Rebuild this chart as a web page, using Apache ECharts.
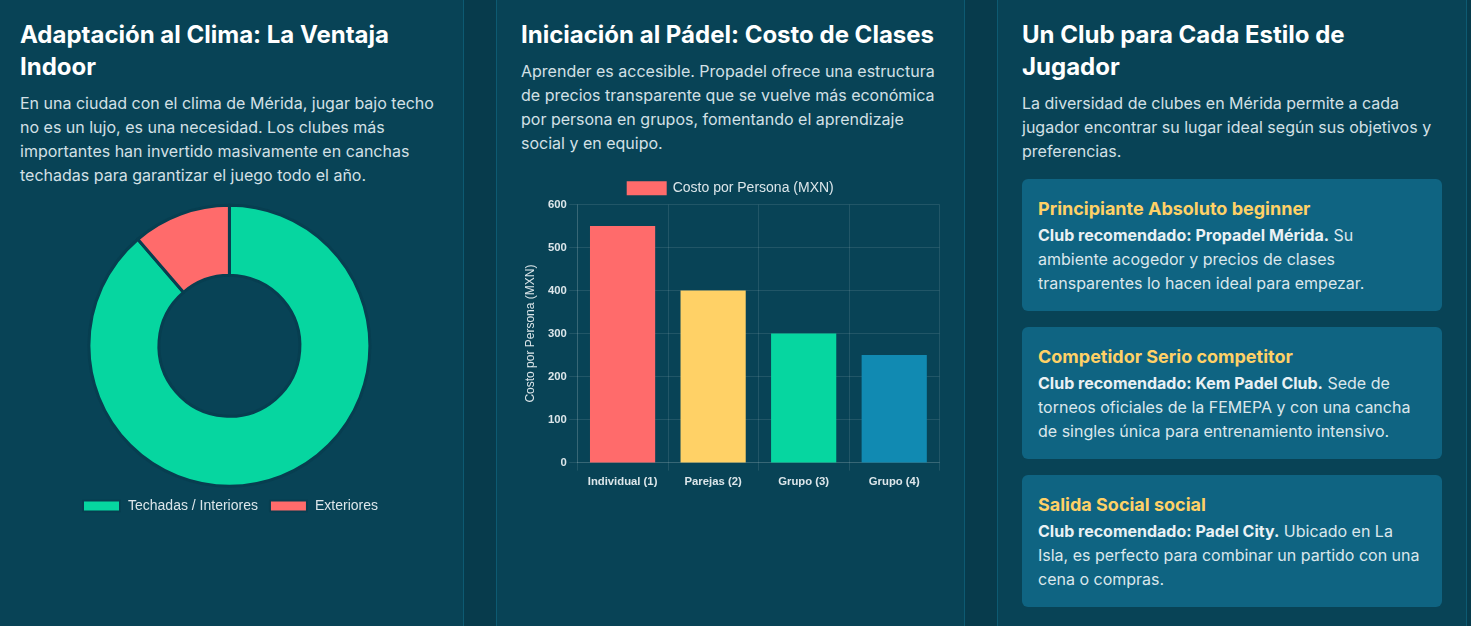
<!DOCTYPE html>
<html lang="es">
<head>
<meta charset="utf-8">
<title>Pádel en Mérida</title>
<script src="https://cdn.jsdelivr.net/npm/echarts@6/dist/echarts.min.js"></script>
<style>
    * { box-sizing: border-box; margin: 0; padding: 0; }
    html, body { width: 1471px; height: 626px; overflow: hidden; background: #073b4c; font-family: 'Inter', sans-serif; }
    .panel { position: absolute; top: -30px; width: 469px; height: 700px; padding: 49px 24px 0; background: #084356; border: 1px solid #0d5a72; border-top: 0; border-bottom: 0; }
    #panel-a { left: -5px; }
    #panel-b { left: 496px; }
    #panel-c { left: 997px; width: 470px; }
    h2 { font-size: 24px; line-height: 32px; font-weight: 700; color: #fff; margin-bottom: 8px; }
    .panel > p { font-size: 16px; line-height: 24px; color: #d3e0e6; }
    .card { background: #0f6482; border-radius: 6px; padding: 16px; height: 132px; margin-bottom: 16px; }
    .cards { margin-top: 16px; }
    h3 { font-size: 18px; line-height: 28px; font-weight: 700; color: #ffd166; margin-bottom: 0; }
    .card p { font-size: 16px; line-height: 24px; color: #dbe7ec; }
    .card strong { font-weight: 700; color: #e9f1f4; }
    .chart { position: absolute; }
    #donut-chart { left: 20px; top: 196px; width: 419px; height: 325px; }
    #cost-chart { left: 521px; top: 170px; width: 420px; height: 325px; }
</style>
</head>
<body>
<div class="panel" id="panel-a">
    <h2>Adaptación al Clima: La Ventaja Indoor</h2>
    <p>En una ciudad con el clima de Mérida, jugar bajo techo no es un lujo, es una necesidad. Los clubes más importantes han invertido masivamente en canchas techadas para garantizar el juego todo el año.</p>
</div>
<div class="panel" id="panel-b">
    <h2>Iniciación al Pádel: Costo de Clases</h2>
    <p>Aprender es accesible. Propadel ofrece una estructura de precios transparente que se vuelve más económica por persona en grupos, fomentando el aprendizaje social y en equipo.</p>
</div>
<div class="panel" id="panel-c">
    <h2>Un Club para Cada Estilo de Jugador</h2>
    <p>La diversidad de clubes en Mérida permite a cada jugador encontrar su lugar ideal según sus objetivos y preferencias.</p>
    <div class="cards">
        <div class="card">
            <h3>Principiante Absoluto beginner</h3>
            <p><strong>Club recomendado: Propadel Mérida.</strong> Su ambiente acogedor y precios de clases transparentes lo hacen ideal para empezar.</p>
        </div>
        <div class="card">
            <h3>Competidor Serio competitor</h3>
            <p><strong>Club recomendado: Kem Padel Club.</strong> Sede de torneos oficiales de la FEMEPA y con una cancha de singles única para entrenamiento intensivo.</p>
        </div>
        <div class="card">
            <h3>Salida Social social</h3>
            <p><strong>Club recomendado: Padel City.</strong> Ubicado en La Isla, es perfecto para combinar un partido con una cena o compras.</p>
        </div>
    </div>
</div>
<div class="chart" id="donut-chart"></div>
<div class="chart" id="cost-chart"></div>

<script>
// Chart data
const courtTypes = ['Techadas / Interiores', 'Exteriores'];
const courtShares = [88.7, 11.3];
const courtColors = ['#06d6a0', '#ff6b6b'];

const classTypes = ['Individual (1)', 'Parejas (2)', 'Grupo (3)', 'Grupo (4)'];
const classCosts = [550, 400, 300, 250];
const classColors = ['#ff6b6b', '#ffd166', '#06d6a0', '#118ab2'];
const costSeriesName = 'Costo por Persona (MXN)';
const costAxisTitle = 'Costo por Persona (MXN)';

const chartFont = "'Liberation Sans', Arial, sans-serif";
const chartText = '#dce6ea';
const gridColor = 'rgba(255,255,255,0.1)';

document.addEventListener('DOMContentLoaded', function() {
    initDonutChart();
    initCostChart();
});

// Indoor vs outdoor courts
function initDonutChart() {
    const myChart = echarts.init(document.getElementById('donut-chart'));
    myChart.setOption({
        animation: false,
        color: courtColors,
        legend: {
            left: 62,
            top: 303,
            padding: 0,
            icon: 'rect',
            itemWidth: 37,
            itemHeight: 11,
            itemGap: 11,
            textStyle: { color: chartText, fontFamily: chartFont, fontSize: 14, padding: [0, 0, 0, 3] }
        },
        series: [{
            type: 'pie',
            center: [209.4, 149.8],
            radius: [70.5, 140.5],
            startAngle: 90,
            label: { show: false },
            labelLine: { show: false },
            itemStyle: { borderColor: '#073e50', borderWidth: 3 },
            data: courtTypes.map((name, i) => ({ name: name, value: courtShares[i] }))
        }]
    });
}

// Class cost per person
function initCostChart() {
    const myChart = echarts.init(document.getElementById('cost-chart'));
    myChart.setOption({
        animation: false,
        legend: {
            left: 105.7,
            top: 11.2,
            padding: 0,
            icon: 'rect',
            itemWidth: 40,
            itemHeight: 14,
            textStyle: { color: chartText, fontFamily: chartFont, fontSize: 14, padding: [0, 0, 0, 1] }
        },
        grid: { left: 56.3, top: 34.6, width: 362.2, height: 258, outerBoundsMode: 'none' },
        xAxis: {
            type: 'category',
            data: classTypes,
            axisLine: { show: true, lineStyle: { color: gridColor } },
            // interval 0: keep every category, auto layout drops some at this width
            axisTick: { show: true, interval: 0, length: 8, lineStyle: { color: gridColor } },
            axisLabel: { interval: 0, color: chartText, fontFamily: chartFont, fontSize: 11.3, fontWeight: 'bold', margin: 13.5 },
            splitLine: { show: true, interval: 0, lineStyle: { color: gridColor } }
        },
        yAxis: {
            type: 'value',
            min: 0,
            max: 600,
            interval: 100,
            name: costAxisTitle,
            nameLocation: 'middle',
            nameGap: 36,
            nameTextStyle: { color: chartText, fontFamily: chartFont, fontSize: 12 },
            axisLine: { show: true, lineStyle: { color: gridColor } },
            axisTick: { show: true, length: 8, lineStyle: { color: gridColor } },
            axisLabel: { color: chartText, fontFamily: chartFont, fontSize: 11.3, fontWeight: 'bold', margin: 10.5 },
            splitLine: { show: true, lineStyle: { color: gridColor } }
        },
        series: [{
            name: costSeriesName,
            type: 'bar',
            barWidth: '72%',
            itemStyle: { color: classColors[0] },
            data: classCosts.map((value, i) => ({ value: value, itemStyle: { color: classColors[i] } }))
        }]
    });
}
</script>
</body>
</html>
